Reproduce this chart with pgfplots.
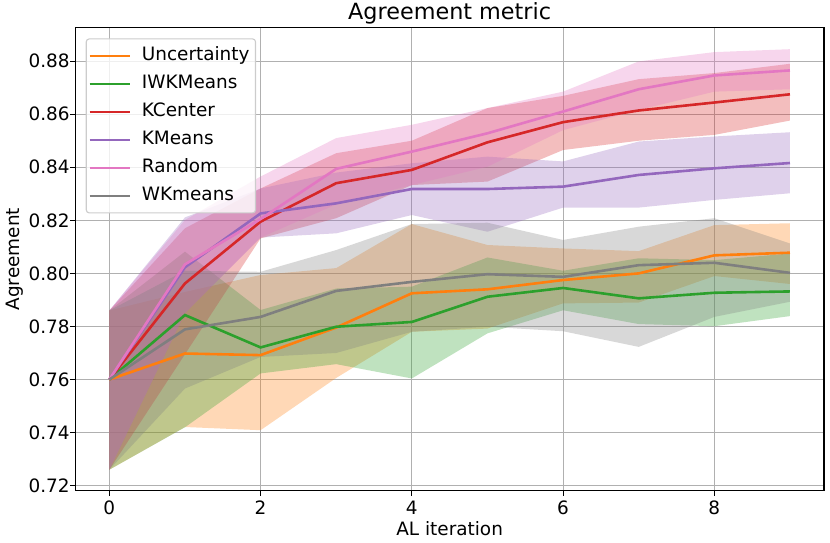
\documentclass[border=0pt]{standalone}
\usepackage{fontspec}
\setmainfont{DejaVu Sans}
\usepackage{pgfplots}
\pgfplotsset{compat=1.18}
\usepackage{pgfplotstable}
\usepgfplotslibrary{fillbetween}

\definecolor{cOrange}{HTML}{FF7F0E}
\definecolor{cGreen}{HTML}{2CA02C}
\definecolor{cRed}{HTML}{D62728}
\definecolor{cPurple}{HTML}{9467BD}
\definecolor{cPink}{HTML}{E377C2}
\definecolor{cGray}{HTML}{7F7F7F}
\definecolor{gridc}{HTML}{B0B0B0}
\definecolor{legc}{HTML}{CCCCCC}

\newcommand{\tickfont}{\fontsize{18.5}{22}\selectfont}

\pgfplotstableread{
x mean hi lo
0 0.7600 0.7860 0.7260
1 0.7698 0.7930 0.7421
2 0.7692 0.7994 0.7409
3 0.7796 0.8020 0.7606
4 0.7925 0.8186 0.7780
5 0.7940 0.8107 0.7792
6 0.7975 0.8094 0.7887
7 0.8000 0.8084 0.7890
8 0.8068 0.8182 0.7990
9 0.8078 0.8189 0.7960
}\unc

\pgfplotstableread{
x mean hi lo
0 0.7600 0.7860 0.7260
1 0.7843 0.8082 0.7420
2 0.7721 0.7862 0.7623
3 0.7799 0.7943 0.7658
4 0.7817 0.7950 0.7604
5 0.7912 0.8060 0.7774
6 0.7945 0.8010 0.7861
7 0.7906 0.8057 0.7809
8 0.7927 0.8050 0.7801
9 0.7932 0.8075 0.7839
}\iwk

\pgfplotstableread{
x mean hi lo
0 0.7600 0.7860 0.7260
1 0.7962 0.8170 0.7695
2 0.8195 0.8320 0.8132
3 0.8340 0.8453 0.8208
4 0.8390 0.8500 0.8333
5 0.8494 0.8623 0.8346
6 0.8570 0.8669 0.8465
7 0.8614 0.8732 0.8500
8 0.8644 0.8755 0.8522
9 0.8675 0.8790 0.8576
}\kce

\pgfplotstableread{
x mean hi lo
0 0.7600 0.7860 0.7260
1 0.8023 0.8211 0.7850
2 0.8226 0.8320 0.8135
3 0.8264 0.8380 0.8151
4 0.8318 0.8415 0.8220
5 0.8318 0.8440 0.8157
6 0.8327 0.8422 0.8248
7 0.8371 0.8497 0.8248
8 0.8396 0.8516 0.8277
9 0.8416 0.8532 0.8302
}\kme

\pgfplotstableread{
x mean hi lo
0 0.7600 0.7860 0.7260
1 0.8034 0.8201 0.7850
2 0.8205 0.8365 0.8135
3 0.8394 0.8510 0.8260
4 0.8459 0.8560 0.8333
5 0.8528 0.8623 0.8402
6 0.8610 0.8685 0.8540
7 0.8694 0.8799 0.8616
8 0.8746 0.8834 0.8685
9 0.8765 0.8845 0.8694
}\rnd

\pgfplotstableread{
x mean hi lo
0 0.7600 0.7860 0.7260
1 0.7789 0.8010 0.7566
2 0.7836 0.8006 0.7685
3 0.7934 0.8088 0.7700
4 0.7968 0.8186 0.7780
5 0.7997 0.8191 0.7799
6 0.7987 0.8126 0.7782
7 0.8031 0.8176 0.7723
8 0.8040 0.8208 0.7836
9 0.8002 0.8113 0.7893
}\wkm

\begin{document}
\begin{tikzpicture}
\begin{axis}[
  scale only axis,
  width=748.7bp, height=463bp,
  xmin=-0.45, xmax=9.45,
  ymin=0.7181, ymax=0.8926,
  xtick={0,2,4,6,8},
  ytick={0.72,0.74,0.76,0.78,0.80,0.82,0.84,0.86,0.88},
  scaled y ticks=false,
  /pgf/number format/assume math mode=true,
  every tick label/.append style={font=\tickfont},
  yticklabel style={font=\tickfont, /pgf/number format/fixed, /pgf/number format/fixed zerofill, /pgf/number format/precision=2, inner xsep=0.5bp},
  xticklabel style={font=\tickfont, inner ysep=4.8bp},
  xtick pos=lower, ytick pos=left,
  tick align=outside,
  major tick length=4.9bp,
  tick style={line width=1.1bp, black},
  axis line style={line width=1.1bp, black},
  grid=major,
  major grid style={line width=1.1bp, gridc},
  title={Agreement metric},
  every axis title/.style={font=\fontsize{22.4}{26}\selectfont, at={(rel axis cs:0.5,1.0173)}, anchor=base},
  xlabel={AL iteration},
  xlabel style={font=\tickfont, at={(rel axis cs:0.5,-0.0957)}, anchor=base},
  ylabel={Agreement},
  ylabel style={font=\tickfont, at={(rel axis cs:-0.0739,0.5)}, anchor=base},
  legend cell align=left,
  legend image code/.code={\draw[#1] (0bp,0bp) -- (40bp,0bp);},
  legend style={
    at={(0.0139,0.977)}, anchor=north west,
    draw=legc, line width=1.1bp, rounded corners=3bp,
    fill=white, fill opacity=0.8, text opacity=1, draw opacity=1,
    inner xsep=2bp, inner ysep=3bp,
    font=\tickfont,
    nodes={inner xsep=4bp, inner ysep=5bp, text height=13.5bp, text depth=4.5bp},
    /tikz/every odd column/.append style={column sep=7bp},
  },
]
\coordinate (SW) at (rel axis cs:0,0);
\coordinate (NE) at (rel axis cs:1,1);

% bands
\addplot[name path=uhi, draw=none, forget plot] table[x=x, y=hi]{\unc};
\addplot[name path=ulo, draw=none, forget plot] table[x=x, y=lo]{\unc};
\addplot[fill=cOrange, fill opacity=0.3, draw=none, forget plot] fill between[of=uhi and ulo];

\addplot[name path=ihi, draw=none, forget plot] table[x=x, y=hi]{\iwk};
\addplot[name path=ilo, draw=none, forget plot] table[x=x, y=lo]{\iwk};
\addplot[fill=cGreen, fill opacity=0.3, draw=none, forget plot] fill between[of=ihi and ilo];

\addplot[name path=chi, draw=none, forget plot] table[x=x, y=hi]{\kce};
\addplot[name path=clo, draw=none, forget plot] table[x=x, y=lo]{\kce};
\addplot[fill=cRed, fill opacity=0.3, draw=none, forget plot] fill between[of=chi and clo];

\addplot[name path=khi, draw=none, forget plot] table[x=x, y=hi]{\kme};
\addplot[name path=klo, draw=none, forget plot] table[x=x, y=lo]{\kme};
\addplot[fill=cPurple, fill opacity=0.3, draw=none, forget plot] fill between[of=khi and klo];

\addplot[name path=rhi, draw=none, forget plot] table[x=x, y=hi]{\rnd};
\addplot[name path=rlo, draw=none, forget plot] table[x=x, y=lo]{\rnd};
\addplot[fill=cPink, fill opacity=0.3, draw=none, forget plot] fill between[of=rhi and rlo];

\addplot[name path=whi, draw=none, forget plot] table[x=x, y=hi]{\wkm};
\addplot[name path=wlo, draw=none, forget plot] table[x=x, y=lo]{\wkm};
\addplot[fill=cGray, fill opacity=0.3, draw=none, forget plot] fill between[of=whi and wlo];

% lines
\addplot[cOrange, line width=2.6bp] table[x=x, y=mean]{\unc};
\addlegendentry{Uncertainty}
\addplot[cGreen, line width=2.6bp] table[x=x, y=mean]{\iwk};
\addlegendentry{IWKMeans}
\addplot[cRed, line width=2.6bp] table[x=x, y=mean]{\kce};
\addlegendentry{KCenter}
\addplot[cPurple, line width=2.6bp] table[x=x, y=mean]{\kme};
\addlegendentry{KMeans}
\addplot[cPink, line width=2.6bp] table[x=x, y=mean]{\rnd};
\addlegendentry{Random}
\addplot[cGray, line width=2.6bp] table[x=x, y=mean]{\wkm};
\addlegendentry{WKmeans}
\end{axis}
\pgfresetboundingbox
\path ([shift={(-75.3bp,-52.3bp)}]SW) rectangle ([shift={(6bp,27.7bp)}]NE);
\end{tikzpicture}
\end{document}
